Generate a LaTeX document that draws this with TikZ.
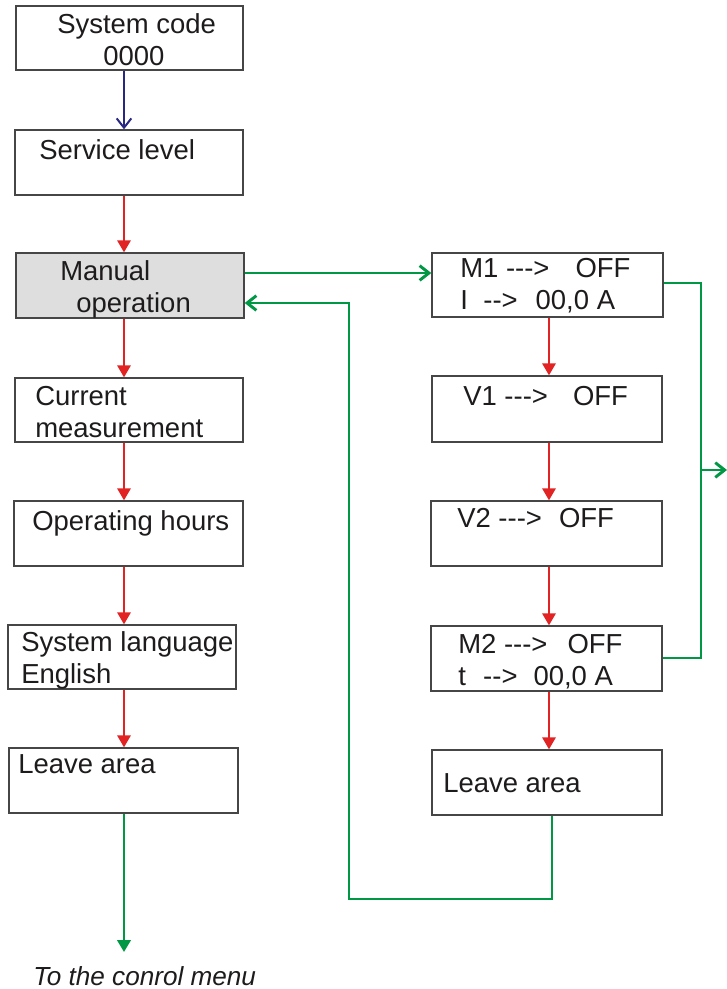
\documentclass[tikz,border=0pt]{standalone}
\usepackage{fontspec}
\setmainfont{Liberation Sans}
\usetikzlibrary{arrows.meta,fit}
\definecolor{rd}{RGB}{225,35,36}
\definecolor{gr}{RGB}{0,152,68}
\definecolor{bl}{RGB}{40,40,130}
\definecolor{boxc}{RGB}{70,70,70}
\definecolor{fillc}{RGB}{222,222,222}
\definecolor{txtc}{RGB}{30,27,28}
\begin{document}
\begin{tikzpicture}[x=0.75pt,y=-0.75pt,
  box/.style={draw=boxc, line width=1pt, inner sep=0pt, rectangle},
  txt/.style={anchor=base west, inner sep=0pt, text=txtc, font=\fontsize{20.6}{24}\selectfont},
  rarr/.style={draw=rd, line width=1.6pt, -{Triangle[length=9pt,width=10pt]}},
  barr/.style={draw=bl, line width=1.5pt, -{Straight Barb[length=7pt,width=11pt]}},
  garr/.style={draw=gr, line width=2.2pt, -{Straight Barb[length=7pt,width=11pt]}},
  gline/.style={draw=gr, line width=2.2pt},
  gtri/.style={draw=gr, line width=2.2pt, -{Triangle[length=9pt,width=10pt]}}
]
\useasboundingbox (0,0) rectangle (726,989);
% left column boxes
\node[box, fit={(16,6)(243,70)}] (b1) {};
\node[box, fit={(15,130)(243,195)}] (b2) {};
\node[box, fill=fillc, fit={(16,253)(244,318)}] (b3) {};
\node[box, fit={(15,378)(243,442)}] (b4) {};
\node[box, fit={(14,501)(243,566)}] (b5) {};
\node[box, fit={(8,625)(236,689)}] (b6) {};
\node[box, fit={(9,748)(238,813)}] (b7) {};
% right column boxes
\node[box, fit={(432,253)(663,317)}] (r1) {};
\node[box, fit={(432,376)(662,442)}] (r2) {};
\node[box, fit={(431,501)(662,566)}] (r3) {};
\node[box, fit={(431,626)(662,691)}] (r4) {};
\node[box, fit={(432,750)(662,815)}] (r5) {};
% texts
\node[txt] (t1a) at (57,33) {System code};
\node[txt] (t1b) at (103,65) {0000};
\node[txt] (t2) at (39,159) {Service level};
\node[txt] (t3a) at (60,280) {Manual};
\node[txt] (t3b) at (76,312) {operation};
\node[txt] (t4a) at (35,405) {Current};
\node[txt] (t4b) at (35,437) {measurement};
\node[txt] (t5) at (32,530) {Operating hours};
\node[txt] (t6a) at (21,651) {System language};
\node[txt] (t6b) at (21,683) {English};
\node[txt] (t7) at (18,773) {Leave area};
\node[txt] (s1a) at (460,277) {M1 -{}-{}->\hspace{19.5pt}OFF};
\node[txt] (s1b) at (460,309) {I\hspace{11.6pt}-{}->\hspace{13.5pt}00,0 A};
\node[txt] (s2) at (463,405) {V1 -{}-{}->\hspace{18.8pt}OFF};
\node[txt] (s3) at (457,527) {V2 -{}-{}->\hspace{12.8pt}OFF};
\node[txt] (s4a) at (458,653) {M2 -{}-{}->\hspace{15pt}OFF};
\node[txt] (s4b) at (458,685) {t\hspace{13pt}-{}->\hspace{12pt}00,0 A};
\node[txt] (s5) at (443,792) {Leave area};
\node[txt, font=\fontsize{19.6}{23}\selectfont\itshape] (tc) at (33,985) {To the conrol menu};
% guide coordinates
\coordinate (ax) at (124,0);
\coordinate (rx) at (549,0);
\coordinate (gy1) at (0,273);
\coordinate (L1) at (552,899);
\coordinate (L2) at (349,899);
\coordinate (L3) at (349,303);
\coordinate (K1) at (701,283);
\coordinate (K2) at (701,658);
\coordinate (E1) at (701,470);
\coordinate (E2) at (727,470);
\coordinate (D1) at (124,952);
% left connectors
\draw[barr] (b1.south -| ax) -- (b2.north -| ax);
\draw[rarr] (b2.south -| ax) -- (b3.north -| ax);
\draw[rarr] (b3.south -| ax) -- (b4.north -| ax);
\draw[rarr] (b4.south -| ax) -- (b5.north -| ax);
\draw[rarr] (b5.south -| ax) -- (b6.north -| ax);
\draw[rarr] (b6.south -| ax) -- (b7.north -| ax);
\draw[gtri] (b7.south -| ax) -- (D1);
% right connectors
\draw[rarr] (r1.south -| rx) -- (r2.north -| rx);
\draw[rarr] (r2.south -| rx) -- (r3.north -| rx);
\draw[rarr] (r3.south -| rx) -- (r4.north -| rx);
\draw[rarr] (r4.south -| rx) -- (r5.north -| rx);
% green
\draw[garr] (b3.east |- gy1) -- (r1.west |- gy1);
\draw[garr] (r5.south -| L1) -- (L1) -- (L2) -- (L3) -- (b3.east |- L3);
\draw[gline] (r1.east |- K1) -- (K1) -- (K2) -- (r4.east |- K2);
\draw[garr] (E1) -- (E2);
\end{tikzpicture}
\end{document}
